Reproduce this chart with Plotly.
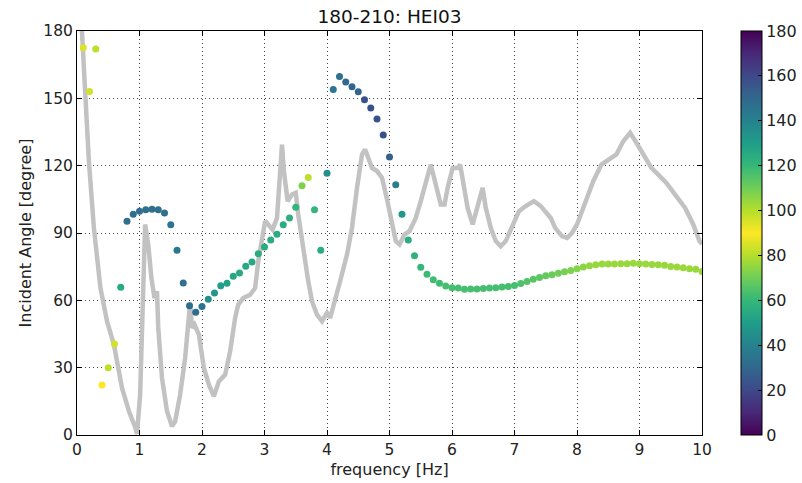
import plotly.graph_objects as go
import plotly.colors as pc

# ---- scatter data: incident angle per frequency, colour value in degrees ----
freq = [round(0.1 * k, 1) for k in range(1, 101)]
angle = [172.5, 153.0, 172.0, 22.3, 30.0, 40.5, 65.8, 95.2, 98.3, 99.7,
         100.4, 100.6, 100.4, 98.9, 93.7, 82.3, 67.7, 57.6, 54.7, 57.2,
         60.5, 63.3, 66.5, 67.6, 70.7, 72.2, 75.2, 77.1, 80.8, 83.8,
         86.9, 89.4, 93.7, 96.7, 101.5, 111.0, 114.7, 100.4, 82.3, 116.6,
         153.9, 159.7, 157.3, 155.2, 152.9, 149.4, 145.7, 140.8, 133.7, 123.9,
         111.5, 98.4, 86.9, 79.9, 74.7, 71.6, 69.2, 67.6, 66.4, 65.6,
         65.5, 64.9, 65.0, 65.1, 65.3, 65.5, 65.6, 65.9, 66.2, 66.6,
         67.5, 68.4, 69.4, 70.2, 70.9, 71.4, 72.1, 72.7, 73.3, 74.1,
         74.8, 75.4, 75.9, 76.2, 76.2, 76.2, 76.3, 76.3, 76.5, 76.3,
         76.2, 76.0, 75.9, 75.6, 75.1, 74.8, 74.5, 74.1, 73.8, 72.8]
colour_deg = [85, 84, 81, 90, 81, 84, 54, 33, 33, 33,
              33, 33, 33, 33, 35, 36, 33, 32, 32, 34,
              45, 48, 50, 52, 53, 54, 54, 54, 55, 55,
              55, 56, 56, 57, 59, 72, 81, 59, 56, 45,
              35, 33, 30, 29, 29, 23, 23, 23, 23, 27,
              39, 47, 55, 58, 60, 61, 62, 62, 63, 63,
              63, 63, 63, 63, 63, 63, 63, 63, 63, 63,
              64, 65, 66, 67, 68, 69, 70, 71, 72, 73,
              74, 75, 76, 76, 76, 76, 76, 76, 76, 76,
              76, 76, 76, 76, 76, 76, 76, 76, 76, 76]

# ---- grey curve ----
curve_f = [0.05, 0.08, 0.136, 0.19, 0.27, 0.375, 0.48, 0.59, 0.72, 0.83,
           0.935, 0.96, 1.01, 1.06, 1.09, 1.14, 1.19, 1.24, 1.28, 1.30,
           1.36, 1.44, 1.52, 1.57, 1.65, 1.73, 1.81, 1.84, 1.88, 1.95,
           2.03, 2.11, 2.19, 2.27, 2.37, 2.45, 2.53, 2.58, 2.66, 2.77,
           2.85, 2.90, 2.96, 3.01, 3.06, 3.13, 3.20, 3.24, 3.28, 3.31,
           3.37, 3.44, 3.50, 3.54, 3.60, 3.65, 3.70, 3.76, 3.84, 3.92,
           4.00, 4.05, 4.13, 4.21, 4.32, 4.40, 4.48, 4.56, 4.61, 4.66,
           4.72, 4.80, 4.88, 4.96, 5.04, 5.10, 5.16, 5.24, 5.32, 5.42,
           5.50, 5.58, 5.66, 5.74, 5.82, 5.88, 5.93, 6.01, 6.09, 6.13,
           6.17, 6.25, 6.33, 6.41, 6.49, 6.54, 6.62, 6.70, 6.78, 6.86,
           6.97, 7.07, 7.18, 7.31, 7.42, 7.50, 7.58, 7.65, 7.76, 7.84,
           7.92, 8.00, 8.13, 8.26, 8.39, 8.50, 8.63, 8.74, 8.85, 8.95,
           9.06, 9.19, 9.30, 9.43, 9.57, 9.73, 9.86, 9.96, 10.0]
curve_v = [195, 180, 151.7, 122, 92.3, 65.5, 50.7, 40.3, 21, 10.7,
           3.1, 0.5, 18, 62.6, 93.8, 84.9, 70, 61, 64, 47.7,
           25.4, 10.6, 3.9, 6.1, 18, 34.3, 59, 47.7, 49.2, 44.7,
           29.9, 22.4, 17.2, 23.9, 26.9, 37.3, 52.2, 58.1, 61, 62.5,
           65.5, 77.4, 86.4, 95.3, 93.8, 91.5, 96.7, 114.6, 129.4, 117.6,
           104.2, 107.1, 107.9, 98.2, 86.4, 77.4, 68.5, 59.6, 53.6, 50.7,
           54.4, 52.2, 59.6, 68.5, 80.4, 92.3, 110.1, 125, 127.2, 123.5,
           119, 117.6, 114.6, 105, 95, 86.4, 84.9, 89.3, 90.8, 96.7,
           104.2, 113.1, 120.5, 111.6, 102.7, 102.7, 110.1, 119, 119, 120.5,
           113.1, 101.2, 93.8, 101.2, 110.1, 101.2, 92.3, 86.4, 84.1, 86.4,
           93.8, 99.7, 102, 104.2, 102, 99, 96.7, 92.3, 88.6, 87.8,
           90, 93.8, 104.2, 113.1, 120.5, 122.7, 125, 130.9, 134.6, 130.2,
           125, 119, 116, 112.3, 107.1, 101.2, 93.8, 86.4, 85]

x_ticks = list(range(0, 11))
y_ticks = [0, 30, 60, 90, 120, 150, 180]
cb_ticks = [0, 20, 40, 60, 80, 100, 120, 140, 160, 180]

# mirrored viridis colourscale: purple at 0 and 180, yellow at 90
vir = pc.sequential.Viridis
n = len(vir)
scale = [[0.5 * i / (n - 1), c] for i, c in enumerate(vir)]
rev = list(reversed(vir))[1:]
scale += [[0.5 + 0.5 * (i + 1) / (n - 1), c] for i, c in enumerate(rev)]

fig = go.Figure()
fig.add_trace(go.Scatter(x=curve_f, y=curve_v, mode="lines",
                         line=dict(color="#c2c2c2", width=4.5),
                         hoverinfo="skip", showlegend=False))
fig.add_trace(go.Scatter(x=freq, y=angle, mode="markers",
                         marker=dict(size=7, color=colour_deg, colorscale=scale,
                                     cmin=0, cmax=180,
                                     colorbar=dict(thickness=21, len=1, lenmode="fraction",
                                                   xref="container", x=741 / 802,
                                                   xanchor="left", xpad=0,
                                                   y=0.5, yanchor="middle", ypad=0,
                                                   outlinewidth=1, outlinecolor="black",
                                                   tickvals=cb_ticks, ticks="inside",
                                                   ticklen=4, tickcolor="black",
                                                   tickfont=dict(size=16, color="#222"))),
                         showlegend=False))

axis_common = dict(showline=True, linecolor="black", linewidth=1, mirror="ticks",
                   ticks="inside", ticklen=5, tickcolor="black",
                   showgrid=True, gridcolor="#444", griddash="1px,3px", gridwidth=1,
                   zeroline=False, automargin=False,
                   tickfont=dict(size=15.5, color="#222"))

fig.update_xaxes(range=[0, 10], tickvals=x_ticks,
                 title=dict(text="frequency [Hz]", font=dict(size=16, color="#222"), standoff=6),
                 **axis_common)
fig.update_yaxes(range=[0, 180], tickvals=y_ticks,
                 title=dict(text="Incident Angle [degree]", font=dict(size=16, color="#222"), standoff=7),
                 **axis_common)

fig.update_layout(width=802, height=483,
                  margin=dict(l=77, r=100, t=31, b=48),
                  paper_bgcolor="white", plot_bgcolor="white",
                  font=dict(family="DejaVu Sans", color="#222"),
                  title=dict(text="180-210: HEI03", x=0.5, xref="paper", xanchor="center",
                             y=1 - 17 / 483, yanchor="middle",
                             font=dict(size=18.5, color="#111")))

fig.write_html("out.html", config={"displayModeBar": False},
               post_script="document.body.style.margin='0';document.body.style.overflow='hidden';")
